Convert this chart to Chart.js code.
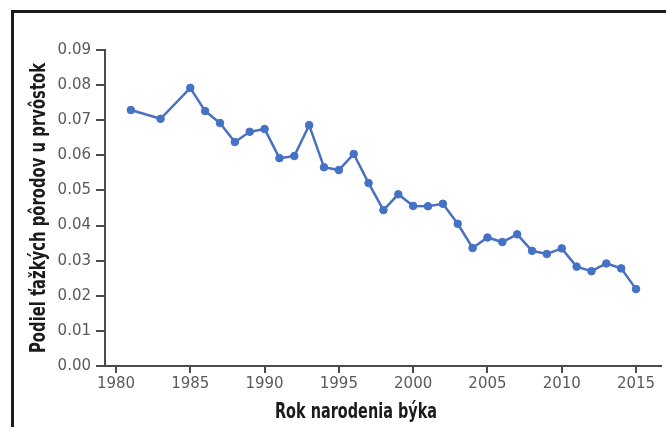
<!DOCTYPE html>
<html><head><meta charset="utf-8">
<script src="https://cdn.jsdelivr.net/npm/chart.js@4/dist/chart.umd.min.js"></script>
<style>
html,body{margin:0;padding:0;background:#fff;}
#wrap{position:relative;width:666px;height:427px;overflow:hidden;background:#fff;}
#frame{position:absolute;left:11px;top:10px;width:700px;height:500px;border-top:3px solid #1c1c1c;border-left:3px solid #1c1c1c;box-sizing:border-box;}
canvas{position:absolute;left:0;top:0;}
</style></head><body>
<div id="wrap"><div id="frame"></div><canvas id="c" width="666" height="427"></canvas></div>
<script>
const years = [1981,1983,1985,1986,1987,1988,1989,1990,1991,1992,1993,1994,1995,1996,1997,1998,1999,2000,2001,2002,2003,2004,2005,2006,2007,2008,2009,2010,2011,2012,2013,2014,2015];
const shares = [0.0729,0.0704,0.0792,0.0726,0.0692,0.0638,0.0667,0.0675,0.0592,0.0598,0.0686,0.0566,0.0558,0.0604,0.0521,0.0444,0.0489,0.0456,0.0455,0.0462,0.0405,0.0336,0.0366,0.0353,0.0375,0.0328,0.0319,0.0335,0.0283,0.0270,0.0292,0.0278,0.0219];
const xTicks = [1980,1985,1990,1995,2000,2005,2010,2015];
const yTicks = [0,0.01,0.02,0.03,0.04,0.05,0.06,0.07,0.08,0.09];
const xTitle = 'Rok narodenia býka';
const yTitle = 'Podiel ťažkých pôrodov u prvôstok';

const titleFont = 'bold 22px "DejaVu Sans Condensed", "Liberation Sans Narrow", "DejaVu Sans", sans-serif';
function drawSqueezed(ctx, text, cx, baseY, targetW) {
  const w = ctx.measureText(text).width;
  const k = Math.min(1, targetW / w);
  ctx.save();
  ctx.translate(cx, baseY);
  ctx.scale(k, 1);
  ctx.fillText(text, 0, 0);
  ctx.restore();
}
const axisTitles = {
  id: 'axisTitles',
  afterDraw(chart) {
    const ctx = chart.ctx;
    ctx.save();
    ctx.fillStyle = '#1a1a1a';
    ctx.font = titleFont;
    ctx.textAlign = 'center';
    ctx.textBaseline = 'alphabetic';
    drawSqueezed(ctx, xTitle, 356, 418, 162);
    ctx.translate(45, 208);
    ctx.rotate(-Math.PI / 2);
    drawSqueezed(ctx, yTitle, 0, 0, 290);
    ctx.restore();
  }
};

const tickFont = { family: '"DejaVu Sans", sans-serif', size: 15 };
const axisColor = '#4a4a4a';

new Chart(document.getElementById('c'), {
  type: 'line',
  data: {
    datasets: [{
      data: years.map((y, i) => ({ x: y, y: shares[i] })),
      borderColor: '#4a70bf',
      backgroundColor: '#4472c4',
      pointBackgroundColor: '#4472c4',
      pointBorderColor: '#4472c4',
      borderWidth: 2.5,
      pointBorderWidth: 1,
      pointRadius: 3.8,
      tension: 0,
      fill: false
    }]
  },
  options: {
    responsive: false,
    animation: false,
    layout: { padding: { top: 50, right: 5, left: 0, bottom: 0 } },
    plugins: { legend: { display: false }, tooltip: { enabled: false } },
    scales: {
      x: {
        type: 'linear',
        min: 1979.26,
        max: 2016.68,
        afterBuildTicks: s => { s.ticks = xTicks.map(v => ({ value: v })); },
        afterFit: s => { s.height = 61; },
        grid: { display: true, drawOnChartArea: false, drawTicks: true, tickLength: 7, color: axisColor, lineWidth: 2 },
        border: { display: true, color: axisColor, width: 2 },
        ticks: { font: tickFont, color: '#5a5a5a', padding: 2, maxRotation: 0, autoSkip: false, callback: v => String(v) }
      },
      y: {
        min: 0,
        max: 0.09,
        afterBuildTicks: s => { s.ticks = yTicks.map(v => ({ value: v })); },
        afterFit: s => { s.width = 105; },
        grid: { display: true, drawOnChartArea: false, drawTicks: true, tickLength: 9, color: axisColor, lineWidth: 2 },
        border: { display: true, color: axisColor, width: 2 },
        ticks: { font: tickFont, color: '#5a5a5a', padding: 5, autoSkip: false, callback: v => Number(v).toFixed(2) }
      }
    }
  },
  plugins: [axisTitles]
});
</script>
</body></html>
